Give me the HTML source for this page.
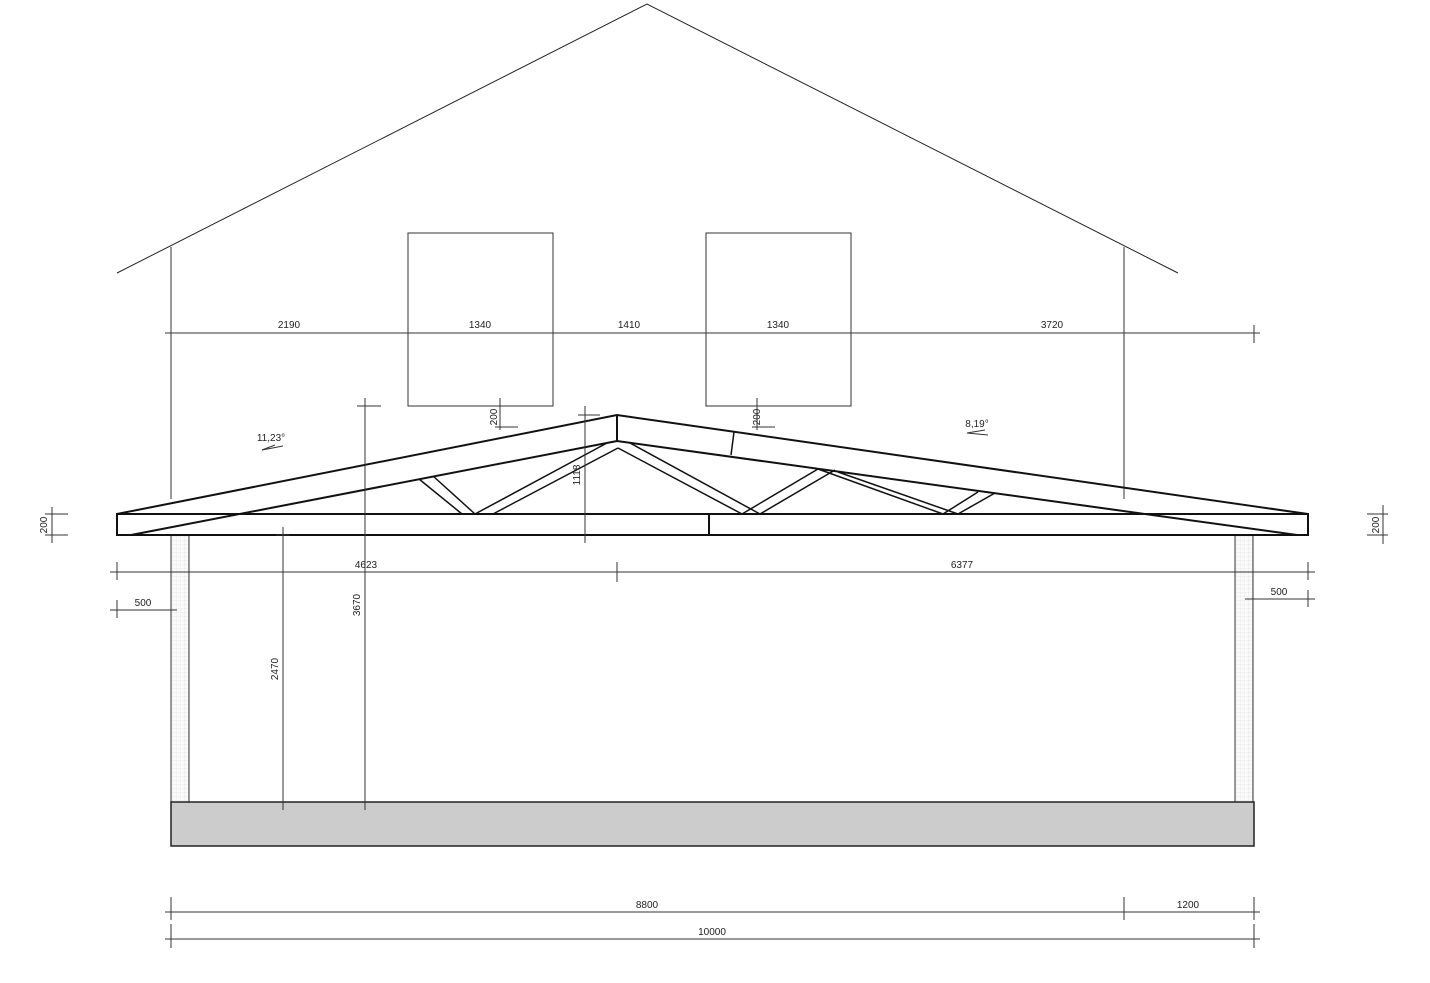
<!DOCTYPE html>
<html><head><meta charset="utf-8"><style>
html,body{margin:0;padding:0;background:#fff;}
svg{display:block;}
text{font-family:"Liberation Sans",sans-serif;font-size:10px;fill:#222;}
</style></head><body>
<svg width="1430" height="983" viewBox="0 0 1430 983" xmlns="http://www.w3.org/2000/svg">
<defs>
<pattern id="hp" width="4" height="4" patternUnits="userSpaceOnUse"><rect width="4" height="4" fill="#fafafa"/><path d="M0 0H4M0 0V4" stroke="#ddd" stroke-width="0.5"/></pattern>
</defs>
<!-- gable -->
<polyline points="117,273 647,4 1178,273" fill="none" stroke="#222" stroke-width="1"/>
<line x1="171" y1="247" x2="171" y2="499" stroke="#333"/>
<line x1="1124" y1="247" x2="1124" y2="499" stroke="#333"/>
<rect x="408" y="233" width="145" height="173" fill="none" stroke="#333"/>
<rect x="706" y="233" width="145" height="173" fill="none" stroke="#333"/>
<!-- top dim -->
<g stroke="#333" stroke-width="1">
<line x1="165" y1="333" x2="1260" y2="333"/>
<line x1="171" y1="325" x2="171" y2="343"/><line x1="408" y1="325" x2="408" y2="343"/>
<line x1="553" y1="325" x2="553" y2="343"/><line x1="706" y1="325" x2="706" y2="343"/>
<line x1="851" y1="325" x2="851" y2="343"/><line x1="1254" y1="325" x2="1254" y2="343"/>
</g>
<text x="289" y="328" text-anchor="middle">2190</text>
<text x="480" y="328" text-anchor="middle">1340</text>
<text x="629" y="328" text-anchor="middle">1410</text>
<text x="778" y="328" text-anchor="middle">1340</text>
<text x="1052" y="328" text-anchor="middle">3720</text>
<!-- posts -->
<rect x="171" y="535" width="18" height="267" fill="url(#hp)" stroke="#333"/>
<rect x="1235" y="535" width="18" height="267" fill="url(#hp)" stroke="#333"/>
<rect x="171" y="802" width="1083" height="44" fill="#cccccc" stroke="#222" stroke-width="1.5"/>
<!-- truss -->
<g fill="none" stroke="#111" stroke-width="2">
<rect x="117" y="514" width="1191" height="21"/>
<polyline points="117,514 617,415 1308,514"/>
<polyline points="131,535 617,441 1297,535"/>
<line x1="617" y1="415" x2="617" y2="441"/>
<line x1="709" y1="514" x2="709" y2="535"/>
</g>
<g stroke="#111" stroke-width="1.5">
<line x1="734" y1="432" x2="731" y2="455"/>
<line x1="419" y1="479" x2="462" y2="514"/><line x1="433" y1="476" x2="475" y2="514"/>
<line x1="475" y1="514" x2="607" y2="443"/><line x1="493" y1="514" x2="618" y2="448"/>
<line x1="618" y1="448" x2="742" y2="514"/><line x1="630" y1="443" x2="760" y2="514"/>
<line x1="742" y1="514" x2="818" y2="469"/><line x1="760" y1="514" x2="835" y2="470"/>
<line x1="818" y1="469" x2="943" y2="514"/><line x1="838" y1="472" x2="958" y2="514"/>
<line x1="943" y1="514" x2="978" y2="492"/><line x1="958" y1="514" x2="995" y2="493"/>
</g>
<!-- angles -->
<text x="271" y="441" text-anchor="middle">11,23°</text>
<line x1="262" y1="450" x2="283" y2="446" stroke="#333"/><line x1="262" y1="450" x2="275" y2="445" stroke="#333"/>
<text x="977" y="427" text-anchor="middle">8,19°</text>
<line x1="967" y1="433" x2="988" y2="435" stroke="#333"/><line x1="967" y1="433" x2="985" y2="430" stroke="#333"/>
<!-- dims -->
<g stroke="#333" stroke-width="1">
<line x1="110" y1="572" x2="1315" y2="572"/>
<line x1="117" y1="562" x2="117" y2="580"/><line x1="617" y1="562" x2="617" y2="582"/><line x1="1308" y1="562" x2="1308" y2="580"/>
<line x1="110" y1="610" x2="177" y2="610"/><line x1="117" y1="600" x2="117" y2="618"/><line x1="171" y1="600" x2="171" y2="618"/>
<line x1="1245" y1="599" x2="1315" y2="599"/><line x1="1308" y1="590" x2="1308" y2="607"/>
<line x1="283" y1="527" x2="283" y2="810"/><line x1="276" y1="535" x2="290" y2="535"/>
<line x1="365" y1="398" x2="365" y2="810"/><line x1="357" y1="406" x2="381" y2="406"/>
<line x1="585" y1="406" x2="585" y2="543"/><line x1="578" y1="415" x2="600" y2="415"/>
<line x1="500" y1="398" x2="500" y2="430"/><line x1="495" y1="406" x2="518" y2="406"/><line x1="495" y1="427" x2="518" y2="427"/>
<line x1="757" y1="398" x2="757" y2="430"/><line x1="752" y1="406" x2="775" y2="406"/><line x1="752" y1="427" x2="775" y2="427"/>
<line x1="52" y1="507" x2="52" y2="543"/><line x1="45" y1="514" x2="68" y2="514"/><line x1="45" y1="535" x2="68" y2="535"/>
<line x1="1383" y1="505" x2="1383" y2="544"/><line x1="1367" y1="514" x2="1388" y2="514"/><line x1="1367" y1="535" x2="1388" y2="535"/>
<line x1="165" y1="912" x2="1260" y2="912"/><line x1="165" y1="939" x2="1260" y2="939"/>
<line x1="171" y1="897" x2="171" y2="920"/><line x1="171" y1="924" x2="171" y2="948"/>
<line x1="1124" y1="897" x2="1124" y2="920"/>
<line x1="1254" y1="897" x2="1254" y2="920"/><line x1="1254" y1="924" x2="1254" y2="948"/>
</g>
<text x="366" y="568" text-anchor="middle">4623</text>
<text x="962" y="568" text-anchor="middle">6377</text>
<text x="143" y="606" text-anchor="middle">500</text>
<text x="1279" y="595" text-anchor="middle">500</text>
<text transform="translate(278,669) rotate(-90)" text-anchor="middle">2470</text>
<text transform="translate(360,605) rotate(-90)" text-anchor="middle">3670</text>
<text transform="translate(580,475) rotate(-90)" text-anchor="middle">1118</text>
<text transform="translate(497,417) rotate(-90)" text-anchor="middle">200</text>
<text transform="translate(760,417) rotate(-90)" text-anchor="middle">200</text>
<text transform="translate(47,525) rotate(-90)" text-anchor="middle">200</text>
<text transform="translate(1379,525) rotate(-90)" text-anchor="middle">200</text>
<text x="647" y="908" text-anchor="middle">8800</text>
<text x="1188" y="908" text-anchor="middle">1200</text>
<text x="712" y="935" text-anchor="middle">10000</text>
</svg>
</body></html>
